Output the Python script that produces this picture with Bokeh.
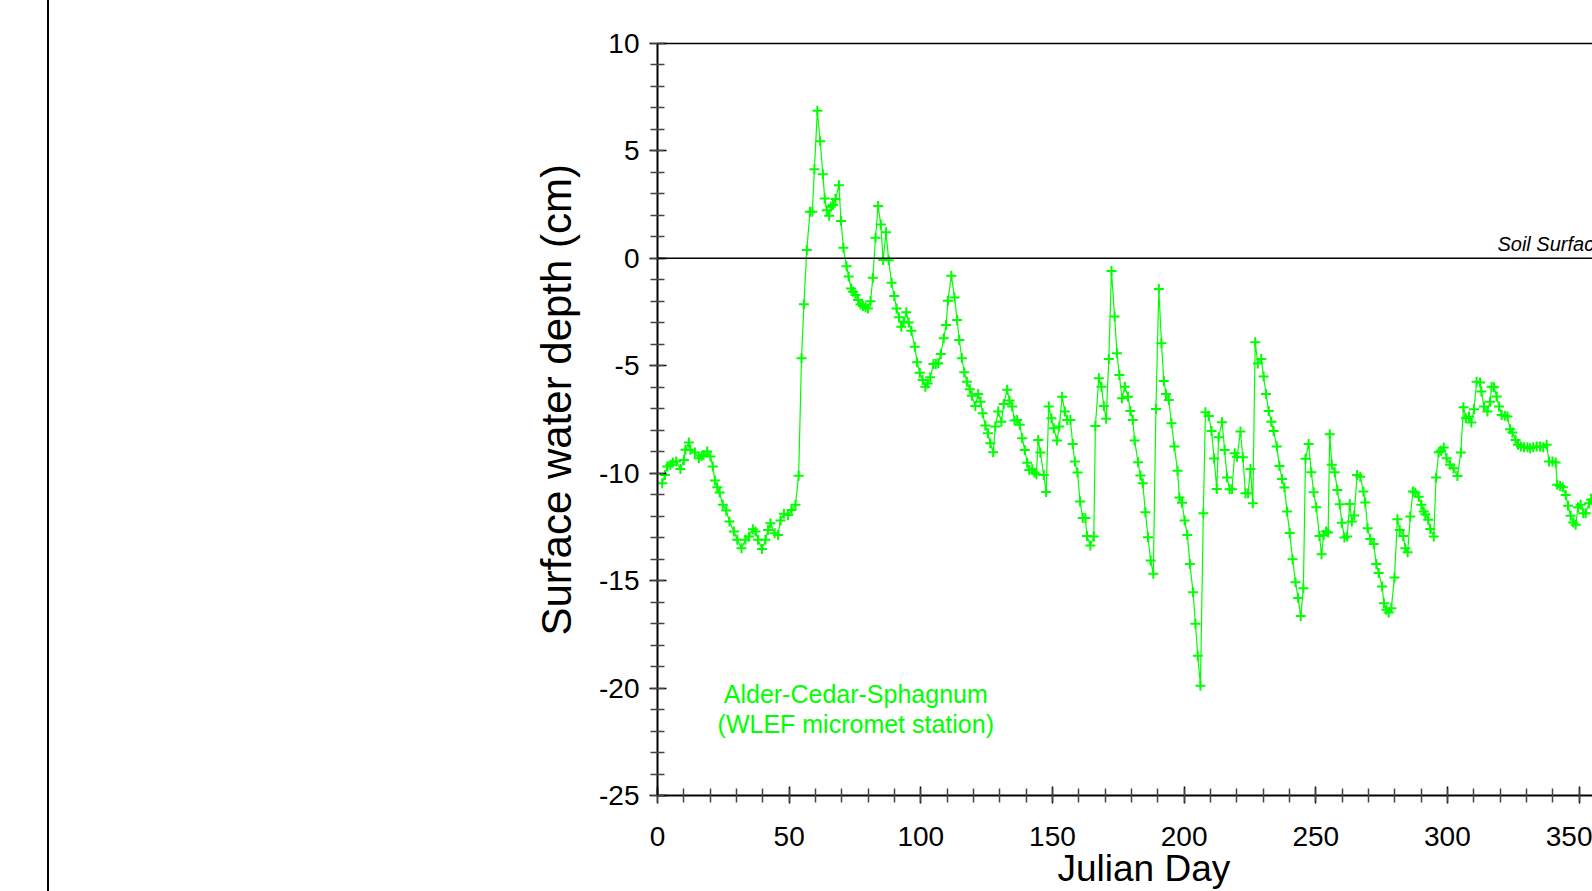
from bokeh.plotting import figure
from bokeh.models import (Range1d, LinearAxis, SingleIntervalTicker, FixedTicker, Span, Label,
                          Title, Div, PrintfTickFormatter)
from bokeh.layouts import row
from bokeh.embed import file_html
from bokeh.resources import INLINE

# ---- data (Julian day, surface water depth in cm) ----
days = [1.8, 2.8, 3.7, 4.9, 5.8, 7.1, 8.7, 10.0, 10.6, 11.9, 12.5, 14.2, 15.7, 16.7, 17.5, 18.9,
        20.1, 21.0, 21.8, 22.7, 23.6, 24.8, 26.1, 27.3, 29.0, 30.3, 31.9, 33.4, 34.7, 36.2, 37.2,
        38.2, 39.7, 41.0, 42.0, 42.9, 44.5, 45.8, 46.7, 48.0, 49.6, 50.9, 52.4, 53.6, 54.7,
        55.6, 56.7, 57.9, 58.8, 59.6, 60.7, 61.8, 62.8, 63.5, 64.3, 65.2, 65.8, 66.6, 67.6, 68.9,
        69.7, 70.6, 71.8, 72.6, 73.5, 74.3, 75.2, 76.2, 77.1, 78.0, 79.0, 79.9, 80.9, 81.8, 82.8,
        83.8, 84.8, 85.7, 86.8, 87.8, 88.9, 89.9, 90.8, 91.7, 92.6, 93.5, 94.5, 95.4, 96.4, 97.7,
        98.6, 99.6, 100.7, 101.7, 102.6, 103.6, 104.8, 105.7, 106.6, 107.6, 108.7, 109.6, 110.3,
        111.6, 112.8, 113.8, 114.6, 115.6, 116.5, 117.5, 118.6, 119.4, 120.7, 121.8, 122.7, 123.5,
        124.5, 125.5, 126.4, 127.5, 128.3, 129.4, 130.6, 131.5, 132.8, 133.7, 134.7, 135.6, 136.6,
        137.6, 138.5, 139.5, 140.4, 141.2, 142.3, 143.2, 143.9, 144.6, 145.4, 146.7, 147.6, 148.6,
        149.6, 150.5, 151.7, 152.6, 153.7, 154.7, 155.6, 156.8, 157.7, 158.5, 159.5, 160.5, 161.5,
        162.5, 163.1, 164.4, 165.7, 166.3, 167.6, 168.6, 169.5, 170.4, 171.4, 172.4, 173.6, 174.5,
        175.4, 176.4, 177.5, 178.7, 179.6, 180.5, 181.2, 182.5, 183.4, 184.3, 185.3, 186.3, 187.3,
        188.3, 189.3, 190.4, 191.4, 192.3, 193.1, 194.2, 195.2, 196.3, 197.5, 198.2, 199.2, 200.2,
        201.2, 202.2, 203.4, 204.3, 205.2, 206.2, 207.3, 208.1, 209.4, 210.4, 211.4, 212.4, 213.1,
        214.4, 215.4, 216.3, 217.3, 218.2, 219.2, 220.1, 221.4, 222.3, 223.3, 224.3, 225.2, 226.1,
        227.0, 228.0, 229.3, 230.2, 231.1, 232.1, 233.1, 234.0, 235.2, 236.2, 237.2, 238.1, 239.1,
        240.1, 241.2, 242.3, 243.3, 244.3, 245.3, 246.1, 247.3, 248.3, 249.2, 250.2, 251.4, 252.2,
        253.0, 253.9, 254.7, 255.3, 256.1, 257.2, 258.2, 259.1, 259.9, 260.9, 261.9, 262.9, 263.7,
        264.6, 265.7, 266.9, 268.1, 268.8, 269.7, 270.7, 272.0, 273.0, 273.9, 275.2, 275.9, 276.8,
        277.7, 278.7, 279.9, 281.0, 281.9, 283.2, 284.0, 284.9, 285.9, 286.9, 287.8, 289.1, 290.1,
        291.0, 291.6, 292.7, 293.5, 294.8, 295.7, 296.7, 297.6, 298.6, 299.7, 301.0, 302.3, 303.8,
        305.1, 306.1, 307.0, 308.2, 309.1, 310.1, 311.1, 312.4, 312.9, 313.9, 315.2, 316.2, 316.8,
        317.7, 318.7, 319.6, 320.6, 321.8, 322.8, 323.8, 324.7, 325.9, 326.8, 327.9, 329.1, 330.4,
        331.4, 332.6, 333.9, 335.2, 336.4, 337.7, 338.6, 339.9, 341.1, 341.7, 342.8, 343.8, 344.9,
        345.8, 346.8, 347.8, 348.7, 349.6, 350.6, 351.6, 352.5, 353.8, 354.6, 356.0]

depth = [-10.47, -10.08, -9.69, -9.61, -9.50, -9.46, -9.80, -9.38, -8.91, -8.57, -8.91, -9.04, -9.30,
         -9.20, -9.15, -8.99, -9.22, -9.69, -10.34, -10.65, -10.90, -11.47, -11.73, -12.25, -12.71,
         -13.10, -13.49, -13.10, -12.95, -12.61, -12.71, -13.10, -13.53, -13.10, -12.64, -12.33,
         -12.79, -12.87, -12.20, -11.89, -11.94, -11.71, -11.47, -10.12, -4.65,
         -2.14, 0.39, 2.17, 2.17, 4.15, 6.87, 5.45, 3.92, 2.79, 2.24, 1.98, 2.40, 2.48, 2.76, 3.40,
         1.74, 0.49, -0.37, -0.85, -1.40, -1.55, -1.71, -1.94, -2.15, -2.22, -2.27, -2.33, -2.00,
         -0.90, 0.96, 2.44, 1.57, -0.08, 1.21, -0.09, -1.14, -1.75, -2.33, -2.74, -3.18, -2.95,
         -2.51, -2.99, -3.37, -4.11, -4.84, -5.32, -5.66, -5.97, -5.82, -5.53, -4.92, -4.92, -4.88,
         -4.45, -3.72, -3.10, -1.97, -0.81, -1.82, -2.87, -3.80, -4.65, -5.30, -5.74, -6.09, -6.40,
         -6.87, -6.31, -6.67, -7.21, -7.78, -8.14, -8.61, -9.03, -7.83, -7.13, -7.60, -6.78, -6.12,
         -6.62, -6.90, -7.55, -7.52, -7.75, -8.37, -8.92, -9.51, -9.85, -9.81, -9.97, -10.05, -8.45,
         -9.04, -10.08, -10.88, -6.90, -7.44, -7.91, -8.48, -7.83, -6.44, -7.13, -7.52, -7.52, -8.64,
         -9.46, -9.97, -11.32, -12.09, -12.09, -12.92, -13.37, -12.95, -7.80, -5.58, -5.97, -6.87,
         -7.47, -4.68, -0.59, -2.71, -4.42, -5.43, -6.51, -5.97, -6.44, -7.10, -7.52, -8.48, -9.49,
         -10.11, -10.47, -11.82, -12.98, -14.06, -14.68, -7.01, -1.43, -3.95, -5.71, -6.31, -6.59,
         -7.68, -8.76, -9.88, -11.13, -11.37, -12.20, -12.87, -14.22, -15.54, -17.01, -18.50, -19.89,
         -11.86, -7.16, -7.34, -8.03, -9.32, -10.73, -8.33, -7.63, -8.92, -10.20, -10.75, -10.75,
         -9.07, -9.23, -8.06, -9.26, -10.93, -10.93, -9.80, -11.40, -3.91, -4.89, -4.68, -5.50,
         -6.31, -7.10, -7.60, -8.03, -8.76, -9.66, -10.27, -10.67, -11.78, -12.78, -14.00, -15.07,
         -15.81, -16.64, -15.35, -9.33, -8.64, -9.95, -10.89, -11.58, -12.92, -13.77, -12.87, -12.71,
         -12.76, -8.19, -9.61, -9.95, -10.78, -11.44, -12.30, -12.99, -12.95, -11.43, -12.25, -11.97,
         -10.08, -10.16, -10.85, -11.36, -12.56, -13.06, -13.30, -14.23, -14.65, -15.27, -16.05,
         -16.36, -16.48, -16.28, -14.85, -12.14, -12.64, -12.92, -13.49, -13.68, -12.02, -10.85,
         -10.90, -11.09, -11.47, -11.78, -11.91, -12.17, -12.60, -12.95, -10.20, -9.02, -8.96, -8.80,
         -9.30, -9.61, -9.77, -10.13, -9.04, -6.93, -7.44, -7.36, -7.64, -7.02, -5.74, -5.78, -6.20,
         -6.90, -7.13, -6.67, -5.97, -6.00, -6.43, -6.90, -7.29, -7.33, -7.36, -7.95, -8.11, -8.45,
         -8.68, -8.76, -8.79, -8.79, -8.84, -8.79, -8.76, -8.76, -8.79, -8.68, -9.46, -9.46, -9.50,
         -10.54, -10.59, -10.65, -11.01, -11.52, -11.98, -12.29, -12.40, -11.58, -11.47, -11.86,
         -11.86, -11.40, -11.24, -11.0]

x_label = "Julian Day"
y_label = "Surface water depth (cm)"
site_line1 = "Alder-Cedar-Sphagnum"
site_line2 = "(WLEF micromet station)"
surface_label = "Soil Surface"

GREEN = "#00ff00"
FONT = "Liberation Sans"

# ---- main chart ----
p = figure(width=1543, height=891,
           x_range=Range1d(0, 355.1), y_range=Range1d(-25, 10),
           output_backend="svg", toolbar_location=None,
           min_border_left=608, min_border_right=0,
           min_border_top=43, min_border_bottom=96)
p.outline_line_color = None
p.xgrid.visible = False
p.ygrid.visible = False
p.background_fill_color = "white"
p.border_fill_color = "white"

p.xaxis.ticker = SingleIntervalTicker(interval=50, num_minor_ticks=5)
p.yaxis.ticker = SingleIntervalTicker(interval=5, num_minor_ticks=5)
for ax in (p.xaxis, p.yaxis):
    ax.formatter = PrintfTickFormatter(format="%d")
    ax.axis_line_width = 2
    ax.axis_line_color = "black"
    ax.major_tick_line_color = "black"
    ax.major_tick_line_width = 1.5
    ax.major_tick_in = 9
    ax.major_tick_out = 8
    ax.minor_tick_line_color = "#444444"
    ax.minor_tick_line_width = 1.5
    ax.minor_tick_in = 7
    ax.minor_tick_out = 7
    ax.major_label_text_font = FONT
    ax.major_label_text_font_size = "28px"
    ax.major_label_text_color = "black"
p.xaxis.major_label_standoff = 23
p.yaxis.major_label_standoff = 10

top = LinearAxis(ticker=FixedTicker(ticks=[], minor_ticks=[]),
                 axis_line_width=1.5, axis_line_color="black",
                 major_tick_out=0, major_tick_in=0, minor_tick_out=0, minor_tick_in=0,
                 major_label_text_font_size="0px")
p.add_layout(top, "above")

p.add_layout(Title(text=y_label, align="left", offset=160, standoff=33,
                   text_font=FONT, text_font_size="42px", text_font_style="normal",
                   text_color="black"), "left")
p.add_layout(Title(text=x_label, align="left", offset=400, standoff=-2, vertical_align="top",
                   text_font=FONT, text_font_size="37px", text_font_style="normal",
                   text_color="black"), "below")

p.add_layout(Span(location=0, dimension="width", line_color="black", line_width=1.5))

p.line(days, depth, line_color=GREEN, line_width=1.2)
p.scatter(days, depth, marker="cross", size=10, line_color=GREEN, line_width=2)

p.add_layout(Label(x=75.3, y=-20.27, text=site_line1, text_align="center",
                   text_baseline="middle", text_color=GREEN, text_font=FONT,
                   text_font_size="25px"))
p.add_layout(Label(x=75.3, y=-21.65, text=site_line2, text_align="center",
                   text_baseline="middle", text_color=GREEN, text_font=FONT,
                   text_font_size="25px"))
p.add_layout(Label(x=319.0, y=0.66, text=surface_label, text_align="left",
                   text_baseline="alphabetic", text_color="black", text_font=FONT,
                   text_font_style="italic", text_font_size="20px"))

# ---- left page border line ----
border = Div(text="", width=49, height=891, margin=0,
             styles={"border-right": "2px solid black"})

layout = row(border, p, spacing=0)
open("out.html", "w").write(file_html(layout, INLINE))
